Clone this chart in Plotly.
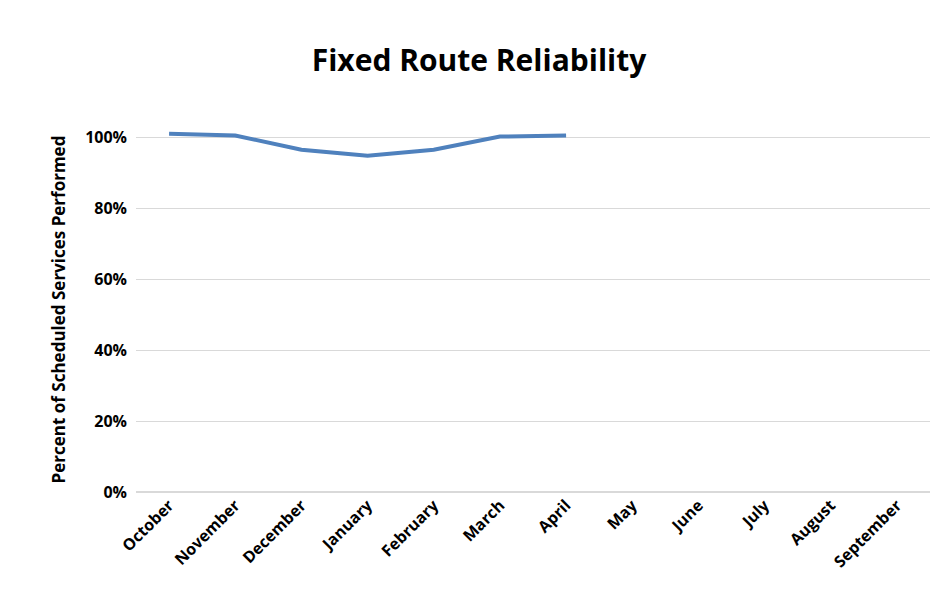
import plotly.graph_objects as go

months = ["October", "November", "December", "January", "February", "March", "April",
          "May", "June", "July", "August", "September"]
reliability = [1.011, 1.006, 0.966, 0.949, 0.966, 1.003, 1.006]

fig = go.Figure()
fig.add_trace(go.Scatter(x=months, y=[None] * len(months), mode="lines", hoverinfo="skip"))
fig.add_trace(go.Scatter(
    x=months[:len(reliability)], y=reliability, mode="lines",
    line=dict(color="#4f81bd", width=4),
))

fig.update_layout(
    width=942, height=597, plot_bgcolor="white", paper_bgcolor="white",
    margin=dict(l=128, r=20, t=119, b=113),
    font=dict(family="Open Sans", color="black", size=15),
    title=dict(text="<b>Fixed Route Reliability</b>", x=0.5, xanchor="center",
               y=0.93, font=dict(size=30)),
    showlegend=False,
    xaxis=dict(categoryorder="array", categoryarray=months, range=[-0.5, 11.5],
               tickangle=-45, tickfont=dict(size=16, weight="bold"),
               showgrid=False, ticks=""),
    yaxis=dict(range=[0, 1.03], tickvals=[0, 0.2, 0.4, 0.6, 0.8, 1.0], tickformat=".0%",
               gridcolor="#d9d9d9", zeroline=True, zerolinecolor="#d9d9d9",
               title=dict(text="<b>Percent of Scheduled Services Performed</b>", font=dict(size=17)),
               tickfont=dict(size=16, weight="bold"), ticks="", ticklabelstandoff=8),
)

fig.write_html("out.html")
